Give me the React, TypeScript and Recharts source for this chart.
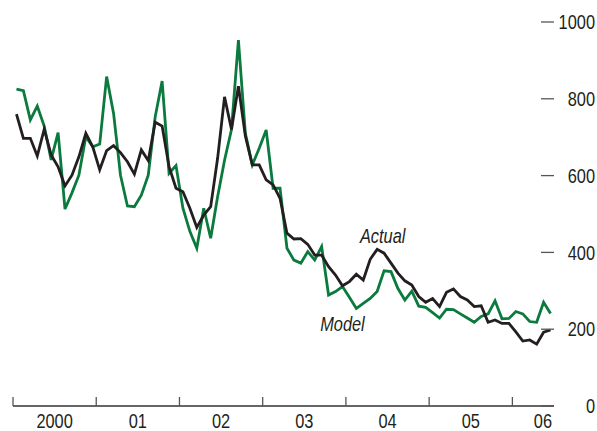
import React from 'react';
import { LineChart, Line, XAxis, YAxis, ReferenceDot } from 'recharts';

// Monthly observations, Jan 2000 – Jun 2006
const actual = [
  760, 697, 697, 651, 721, 654, 623, 573, 601, 649, 710, 675,
  615, 665, 678, 660, 636, 604, 667, 639, 739, 729, 623, 567,
  558, 515, 465, 497, 519, 645, 805, 720, 833, 703, 628, 628,
  589, 576, 541, 450, 435, 436, 421, 393, 393, 363, 341, 313,
  324, 343, 328, 382, 408, 398, 372, 346, 326, 315, 285, 270,
  280, 259, 296, 305, 285, 276, 259, 261, 218, 224, 215, 215,
  193, 169, 172, 161, 192, 198,
];
const model = [
  825, 821, 745, 781, 729, 641, 712, 513, 555, 601, 701, 675,
  682, 858, 762, 601, 521, 519, 549, 601, 753, 846, 606, 626,
  515, 455, 411, 515, 437, 545, 640, 720, 953, 710, 628, 671,
  719, 567, 567, 411, 380, 372, 402, 380, 415, 289, 298, 311,
  283, 254, 267, 280, 298, 352, 350, 306, 276, 299, 260, 257,
  243, 229, 252, 251, 240, 229, 218, 233, 240, 274, 227, 228,
  246, 240, 220, 218, 270, 241,
];

const yearStarts = [0, 12, 24, 36, 48, 60, 72];
const yearLabelPos = [6, 18, 30, 42, 54, 66, 76.4];
const yearLabels = ['2000', '01', '02', '03', '04', '05', '06'];
const yTicks = [0, 200, 400, 600, 800, 1000];

const data = actual.map((a, i) => ({ t: i + 0.5, actual: a, model: model[i] }));

const FONT = '"Liberation Sans", Arial, Helvetica, sans-serif';
const INK = '#231f20';
const GREEN = '#0a7a3e';
const TICKC = '#555555';
const SQUEEZE = 0.82;

const Narrow = ({ x, y, anchor, italic, children }: any) => (
  <text
    transform={`translate(${x},${y}) scale(${SQUEEZE},1)`}
    textAnchor={anchor}
    fontSize={20}
    fontFamily={FONT}
    fontStyle={italic ? 'italic' : 'normal'}
    fill={INK}
  >
    {children}
  </text>
);

const XTick = (props: any) => {
  const { x, y, payload } = props;
  const v = payload.value;
  const si = yearStarts.indexOf(v);
  if (si >= 0) {
    return <line x1={x} x2={x} y1={y} y2={y - 9} stroke={TICKC} strokeWidth={1.3} />;
  }
  const li = yearLabelPos.indexOf(v);
  return (
    <Narrow x={x} y={y + 22} anchor="middle">
      {yearLabels[li]}
    </Narrow>
  );
};

const LeftTick = (props: any) => {
  const { x, y } = props;
  return <line x1={x} x2={x + 13} y1={y} y2={y} stroke={TICKC} strokeWidth={1.3} />;
};

const RightTick = (props: any) => {
  const { x, y, payload } = props;
  return (
    <g>
      <line x1={x - 13} x2={x} y1={y} y2={y} stroke={TICKC} strokeWidth={1.3} />
      <Narrow x={x + 41} y={y + 7.2} anchor="end">
        {payload.value}
      </Narrow>
    </g>
  );
};

const Anno = (props: any) => {
  const { viewBox, text } = props;
  const cx = viewBox.x + (viewBox.width || 0) / 2;
  const cy = viewBox.y + (viewBox.height || 0) / 2;
  return (
    <Narrow x={cx} y={cy + 7} anchor="middle" italic>
      {text}
    </Narrow>
  );
};

export default function App() {
  return (
    <div style={{ position: 'absolute', left: 0, top: 0, width: 597, height: 431, background: '#fff' }}>
      <LineChart width={597} height={431} data={data} margin={{ top: 22, right: 0, bottom: 0, left: 0 }}>
        <XAxis
          dataKey="t"
          type="number"
          domain={[0, 78]}
          ticks={[...yearStarts, ...yearLabelPos]}
          interval={0}
          tick={<XTick />}
          tickLine={false}
          tickSize={0}
          tickMargin={0}
          height={25}
          axisLine={{ stroke: '#333333', strokeWidth: 1.3 }}
        />
        <YAxis
          yAxisId="l"
          orientation="left"
          domain={[0, 1000]}
          ticks={yTicks}
          interval={0}
          width={13}
          axisLine={false}
          tickLine={false}
          tickSize={0}
          tickMargin={0}
          tick={<LeftTick />}
        />
        <YAxis
          yAxisId="r"
          orientation="right"
          domain={[0, 1000]}
          ticks={yTicks}
          interval={0}
          width={43}
          axisLine={false}
          tickLine={false}
          tickSize={0}
          tickMargin={0}
          tick={<RightTick />}
        />
        <Line yAxisId="r" type="linear" dataKey="model" stroke={GREEN} strokeWidth={2.8} dot={false} isAnimationActive={false} />
        <Line yAxisId="r" type="linear" dataKey="actual" stroke={INK} strokeWidth={2.8} dot={false} isAnimationActive={false} />
        <ReferenceDot yAxisId="r" x={53.3} y={443} r={0} fill="none" stroke="none" label={<Anno text="Actual" />} />
        <ReferenceDot yAxisId="r" x={47.5} y={213} r={0} fill="none" stroke="none" label={<Anno text="Model" />} />
      </LineChart>
    </div>
  );
}
